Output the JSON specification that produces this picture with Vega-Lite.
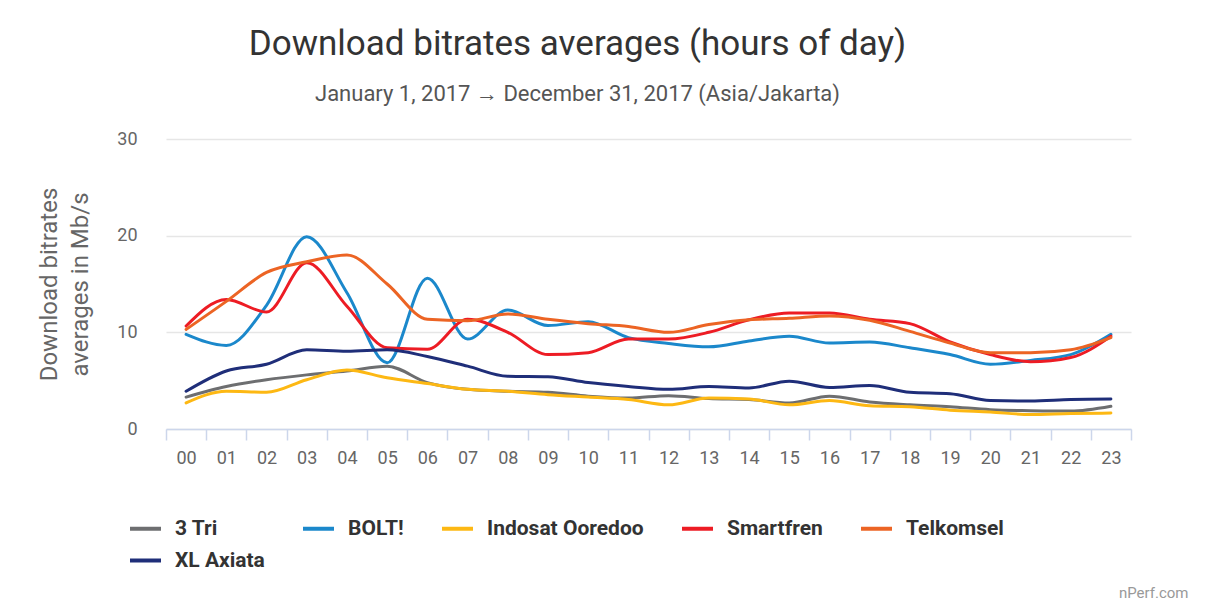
{
  "$schema": "https://vega.github.io/schema/vega-lite/v6.json",
  "width": 965,
  "height": 290,
  "autosize": "none",
  "padding": {"left": 166, "top": 139, "right": 76, "bottom": 178},
  "background": "white",
  "title": {
    "text": "Download bitrates averages (hours of day)",
    "subtitle": "January 1, 2017 → December 31, 2017 (Asia/Jakarta)",
    "anchor": "middle",
    "frame": "group",
    "dx": -71,
    "font": "Roboto",
    "fontSize": 35,
    "fontWeight": "normal",
    "color": "#333333",
    "subtitleFont": "Roboto",
    "subtitleFontSize": 22,
    "subtitleColor": "#555555",
    "subtitlePadding": 22,
    "offset": 25
  },
  "data": {
    "values": [
      {"hour": "00", "operator": "3 Tri", "mbps": 3.3},
      {"hour": "01", "operator": "3 Tri", "mbps": 4.4},
      {"hour": "02", "operator": "3 Tri", "mbps": 5.1},
      {"hour": "03", "operator": "3 Tri", "mbps": 5.6},
      {"hour": "04", "operator": "3 Tri", "mbps": 6.0},
      {"hour": "05", "operator": "3 Tri", "mbps": 6.5},
      {"hour": "06", "operator": "3 Tri", "mbps": 4.8},
      {"hour": "07", "operator": "3 Tri", "mbps": 4.1},
      {"hour": "08", "operator": "3 Tri", "mbps": 3.9},
      {"hour": "09", "operator": "3 Tri", "mbps": 3.8},
      {"hour": "10", "operator": "3 Tri", "mbps": 3.4},
      {"hour": "11", "operator": "3 Tri", "mbps": 3.2},
      {"hour": "12", "operator": "3 Tri", "mbps": 3.45},
      {"hour": "13", "operator": "3 Tri", "mbps": 3.15},
      {"hour": "14", "operator": "3 Tri", "mbps": 3.05},
      {"hour": "15", "operator": "3 Tri", "mbps": 2.7},
      {"hour": "16", "operator": "3 Tri", "mbps": 3.4},
      {"hour": "17", "operator": "3 Tri", "mbps": 2.8},
      {"hour": "18", "operator": "3 Tri", "mbps": 2.5},
      {"hour": "19", "operator": "3 Tri", "mbps": 2.3},
      {"hour": "20", "operator": "3 Tri", "mbps": 2.0},
      {"hour": "21", "operator": "3 Tri", "mbps": 1.9},
      {"hour": "22", "operator": "3 Tri", "mbps": 1.85},
      {"hour": "23", "operator": "3 Tri", "mbps": 2.35},
      {"hour": "00", "operator": "BOLT!", "mbps": 9.8},
      {"hour": "01", "operator": "BOLT!", "mbps": 8.65},
      {"hour": "02", "operator": "BOLT!", "mbps": 12.8},
      {"hour": "03", "operator": "BOLT!", "mbps": 19.9},
      {"hour": "04", "operator": "BOLT!", "mbps": 14.1},
      {"hour": "05", "operator": "BOLT!", "mbps": 6.85},
      {"hour": "06", "operator": "BOLT!", "mbps": 15.6},
      {"hour": "07", "operator": "BOLT!", "mbps": 9.3},
      {"hour": "08", "operator": "BOLT!", "mbps": 12.3},
      {"hour": "09", "operator": "BOLT!", "mbps": 10.7},
      {"hour": "10", "operator": "BOLT!", "mbps": 11.1},
      {"hour": "11", "operator": "BOLT!", "mbps": 9.45},
      {"hour": "12", "operator": "BOLT!", "mbps": 8.85},
      {"hour": "13", "operator": "BOLT!", "mbps": 8.5},
      {"hour": "14", "operator": "BOLT!", "mbps": 9.1},
      {"hour": "15", "operator": "BOLT!", "mbps": 9.6},
      {"hour": "16", "operator": "BOLT!", "mbps": 8.9},
      {"hour": "17", "operator": "BOLT!", "mbps": 9.0},
      {"hour": "18", "operator": "BOLT!", "mbps": 8.4},
      {"hour": "19", "operator": "BOLT!", "mbps": 7.7},
      {"hour": "20", "operator": "BOLT!", "mbps": 6.7},
      {"hour": "21", "operator": "BOLT!", "mbps": 7.1},
      {"hour": "22", "operator": "BOLT!", "mbps": 7.7},
      {"hour": "23", "operator": "BOLT!", "mbps": 9.8},
      {"hour": "00", "operator": "Indosat Ooredoo", "mbps": 2.7},
      {"hour": "01", "operator": "Indosat Ooredoo", "mbps": 3.9},
      {"hour": "02", "operator": "Indosat Ooredoo", "mbps": 3.8},
      {"hour": "03", "operator": "Indosat Ooredoo", "mbps": 5.1},
      {"hour": "04", "operator": "Indosat Ooredoo", "mbps": 6.1},
      {"hour": "05", "operator": "Indosat Ooredoo", "mbps": 5.3},
      {"hour": "06", "operator": "Indosat Ooredoo", "mbps": 4.7},
      {"hour": "07", "operator": "Indosat Ooredoo", "mbps": 4.1},
      {"hour": "08", "operator": "Indosat Ooredoo", "mbps": 3.9},
      {"hour": "09", "operator": "Indosat Ooredoo", "mbps": 3.55},
      {"hour": "10", "operator": "Indosat Ooredoo", "mbps": 3.3},
      {"hour": "11", "operator": "Indosat Ooredoo", "mbps": 3.05},
      {"hour": "12", "operator": "Indosat Ooredoo", "mbps": 2.5},
      {"hour": "13", "operator": "Indosat Ooredoo", "mbps": 3.2},
      {"hour": "14", "operator": "Indosat Ooredoo", "mbps": 3.1},
      {"hour": "15", "operator": "Indosat Ooredoo", "mbps": 2.5},
      {"hour": "16", "operator": "Indosat Ooredoo", "mbps": 2.95},
      {"hour": "17", "operator": "Indosat Ooredoo", "mbps": 2.4},
      {"hour": "18", "operator": "Indosat Ooredoo", "mbps": 2.3},
      {"hour": "19", "operator": "Indosat Ooredoo", "mbps": 1.95},
      {"hour": "20", "operator": "Indosat Ooredoo", "mbps": 1.75},
      {"hour": "21", "operator": "Indosat Ooredoo", "mbps": 1.5},
      {"hour": "22", "operator": "Indosat Ooredoo", "mbps": 1.6},
      {"hour": "23", "operator": "Indosat Ooredoo", "mbps": 1.65},
      {"hour": "00", "operator": "Smartfren", "mbps": 10.65},
      {"hour": "01", "operator": "Smartfren", "mbps": 13.4},
      {"hour": "02", "operator": "Smartfren", "mbps": 12.1},
      {"hour": "03", "operator": "Smartfren", "mbps": 17.2},
      {"hour": "04", "operator": "Smartfren", "mbps": 12.7},
      {"hour": "05", "operator": "Smartfren", "mbps": 8.4},
      {"hour": "06", "operator": "Smartfren", "mbps": 8.25},
      {"hour": "07", "operator": "Smartfren", "mbps": 11.35},
      {"hour": "08", "operator": "Smartfren", "mbps": 10.0},
      {"hour": "09", "operator": "Smartfren", "mbps": 7.7},
      {"hour": "10", "operator": "Smartfren", "mbps": 7.9},
      {"hour": "11", "operator": "Smartfren", "mbps": 9.3},
      {"hour": "12", "operator": "Smartfren", "mbps": 9.3},
      {"hour": "13", "operator": "Smartfren", "mbps": 10.0},
      {"hour": "14", "operator": "Smartfren", "mbps": 11.3},
      {"hour": "15", "operator": "Smartfren", "mbps": 12.0},
      {"hour": "16", "operator": "Smartfren", "mbps": 12.0},
      {"hour": "17", "operator": "Smartfren", "mbps": 11.35},
      {"hour": "18", "operator": "Smartfren", "mbps": 10.9},
      {"hour": "19", "operator": "Smartfren", "mbps": 9.0},
      {"hour": "20", "operator": "Smartfren", "mbps": 7.7},
      {"hour": "21", "operator": "Smartfren", "mbps": 6.95},
      {"hour": "22", "operator": "Smartfren", "mbps": 7.4},
      {"hour": "23", "operator": "Smartfren", "mbps": 9.6},
      {"hour": "00", "operator": "Telkomsel", "mbps": 10.3},
      {"hour": "01", "operator": "Telkomsel", "mbps": 13.2},
      {"hour": "02", "operator": "Telkomsel", "mbps": 16.2},
      {"hour": "03", "operator": "Telkomsel", "mbps": 17.3},
      {"hour": "04", "operator": "Telkomsel", "mbps": 18.0},
      {"hour": "05", "operator": "Telkomsel", "mbps": 15.0},
      {"hour": "06", "operator": "Telkomsel", "mbps": 11.35},
      {"hour": "07", "operator": "Telkomsel", "mbps": 11.2},
      {"hour": "08", "operator": "Telkomsel", "mbps": 11.9},
      {"hour": "09", "operator": "Telkomsel", "mbps": 11.35},
      {"hour": "10", "operator": "Telkomsel", "mbps": 10.9},
      {"hour": "11", "operator": "Telkomsel", "mbps": 10.6},
      {"hour": "12", "operator": "Telkomsel", "mbps": 10.0},
      {"hour": "13", "operator": "Telkomsel", "mbps": 10.8},
      {"hour": "14", "operator": "Telkomsel", "mbps": 11.3},
      {"hour": "15", "operator": "Telkomsel", "mbps": 11.45},
      {"hour": "16", "operator": "Telkomsel", "mbps": 11.7},
      {"hour": "17", "operator": "Telkomsel", "mbps": 11.25},
      {"hour": "18", "operator": "Telkomsel", "mbps": 10.1},
      {"hour": "19", "operator": "Telkomsel", "mbps": 8.9},
      {"hour": "20", "operator": "Telkomsel", "mbps": 7.9},
      {"hour": "21", "operator": "Telkomsel", "mbps": 7.9},
      {"hour": "22", "operator": "Telkomsel", "mbps": 8.2},
      {"hour": "23", "operator": "Telkomsel", "mbps": 9.45},
      {"hour": "00", "operator": "XL Axiata", "mbps": 3.9},
      {"hour": "01", "operator": "XL Axiata", "mbps": 6.0},
      {"hour": "02", "operator": "XL Axiata", "mbps": 6.7},
      {"hour": "03", "operator": "XL Axiata", "mbps": 8.2},
      {"hour": "04", "operator": "XL Axiata", "mbps": 8.05},
      {"hour": "05", "operator": "XL Axiata", "mbps": 8.2},
      {"hour": "06", "operator": "XL Axiata", "mbps": 7.5},
      {"hour": "07", "operator": "XL Axiata", "mbps": 6.5},
      {"hour": "08", "operator": "XL Axiata", "mbps": 5.45},
      {"hour": "09", "operator": "XL Axiata", "mbps": 5.4},
      {"hour": "10", "operator": "XL Axiata", "mbps": 4.8},
      {"hour": "11", "operator": "XL Axiata", "mbps": 4.4},
      {"hour": "12", "operator": "XL Axiata", "mbps": 4.1},
      {"hour": "13", "operator": "XL Axiata", "mbps": 4.4},
      {"hour": "14", "operator": "XL Axiata", "mbps": 4.25},
      {"hour": "15", "operator": "XL Axiata", "mbps": 4.95},
      {"hour": "16", "operator": "XL Axiata", "mbps": 4.3},
      {"hour": "17", "operator": "XL Axiata", "mbps": 4.5},
      {"hour": "18", "operator": "XL Axiata", "mbps": 3.8},
      {"hour": "19", "operator": "XL Axiata", "mbps": 3.65},
      {"hour": "20", "operator": "XL Axiata", "mbps": 2.95},
      {"hour": "21", "operator": "XL Axiata", "mbps": 2.9},
      {"hour": "22", "operator": "XL Axiata", "mbps": 3.05},
      {"hour": "23", "operator": "XL Axiata", "mbps": 3.1}
    ]
  },
  "mark": {"type": "line", "interpolate": "monotone", "strokeWidth": 3, "strokeCap": "round", "strokeJoin": "round"},
  "encoding": {
    "x": {
      "field": "hour",
      "type": "ordinal",
      "bandPosition": 0.5,
      "scale": {"type": "band", "paddingInner": 0, "paddingOuter": 0},
      "axis": {
        "title": "nPerf.com",
        "titleFont": "Roboto",
        "titleFontSize": 15,
        "titleFontWeight": "normal",
        "titleColor": "#999999",
        "titleAnchor": "end",
        "titleAlign": "right",
        "titleBaseline": "alphabetic",
        "titleX": 1022,
        "titleY": 168,
        "tickBand": "extent",
        "labelAngle": 0,
        "labelFont": "Roboto",
        "labelFontSize": 18,
        "labelColor": "#666666",
        "labelPadding": 9,
        "domainColor": "#ccd6eb",
        "domainWidth": 1.5,
        "tickColor": "#ccd6eb",
        "tickSize": 11,
        "tickWidth": 1.5,
        "grid": false
      }
    },
    "y": {
      "field": "mbps",
      "type": "quantitative",
      "scale": {"domain": [0, 30], "nice": false},
      "axis": {
        "values": [0, 10, 20, 30],
        "title": ["Download bitrates", "averages in Mb/s"],
        "titleFont": "Roboto",
        "titleFontSize": 24,
        "titleFontWeight": "normal",
        "titleColor": "#666666",
        "titleLineHeight": 31,
        "titlePadding": 24,
        "labelFont": "Roboto",
        "labelFontSize": 18,
        "labelColor": "#666666",
        "labelPadding": 29,
        "ticks": false,
        "domain": false,
        "gridColor": "#e6e6e6",
        "gridWidth": 1.5
      }
    },
    "color": {
      "field": "operator",
      "type": "nominal",
      "scale": {
        "domain": ["3 Tri", "BOLT!", "Indosat Ooredoo", "Smartfren", "Telkomsel", "XL Axiata"],
        "range": ["#6d6e70", "#1b88cb", "#fdb813", "#ed1c24", "#ec6424", "#1f2e79"]
      },
      "legend": {
        "title": null,
        "orient": "none",
        "legendX": -38,
        "legendY": 372,
        "direction": "horizontal",
        "columns": 5,
        "columnPadding": 30,
        "rowPadding": 4,
        "symbolType": "stroke",
        "symbolSize": 960,
        "symbolStrokeWidth": 4,
        "labelOffset": 12,
        "labelFont": "Roboto",
        "labelFontSize": 21,
        "labelFontWeight": "bold",
        "labelColor": "#333333",
        "labelLimit": 400
      }
    }
  },
  "config": {
    "view": {"stroke": null}
  }
}
